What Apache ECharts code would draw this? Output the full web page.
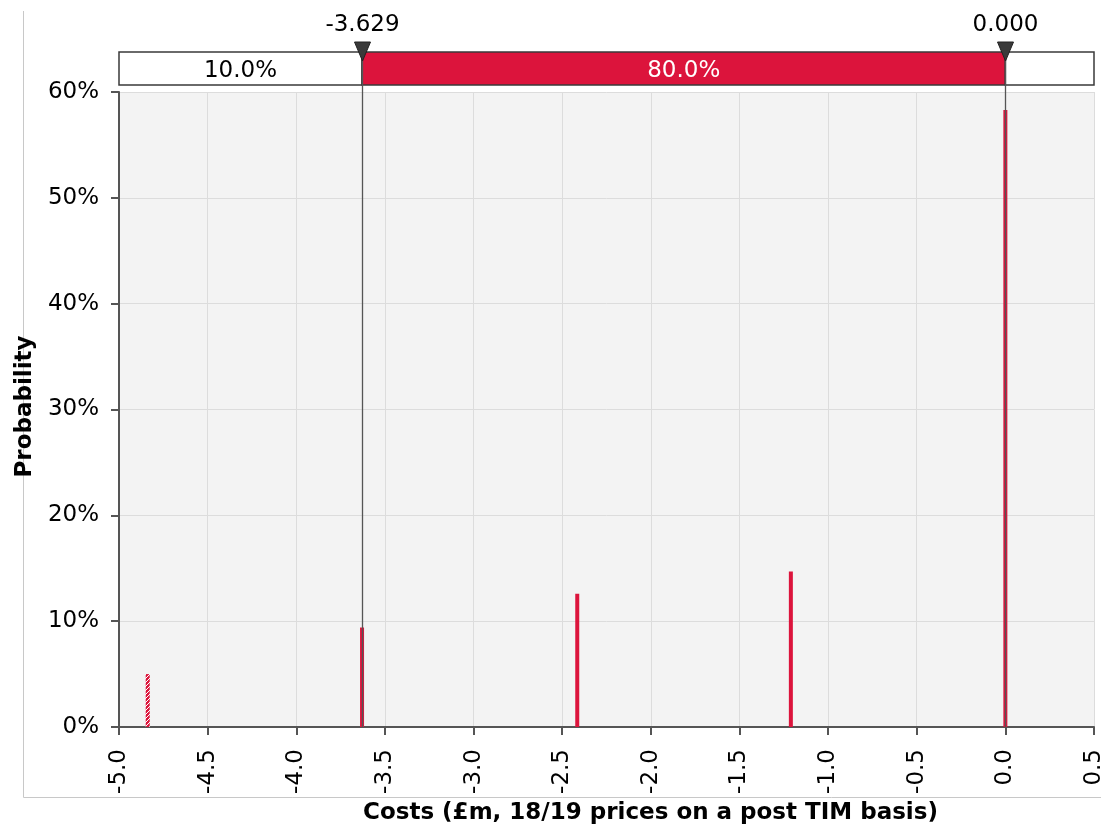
<!DOCTYPE html>
<html>
<head>
<meta charset="utf-8">
<script src="https://cdn.jsdelivr.net/npm/echarts@6/dist/echarts.min.js"></script>
<style>
html,body{margin:0;padding:0;background:#ffffff;}
#chart{width:1101px;height:825px;}
</style>
</head>
<body>
<div id="chart"></div>
<script>
// ---- Data ----
const costs = [-4.838, -3.629, -2.415, -1.210, 0.000];   // x positions of the probability spikes (£m)
const probs = [5.0, 9.4, 12.6, 14.7, 58.3];               // probability (%)
const markerValues = [-3.629, 0.000];                     // delimiter markers
const markerLabels = ['-3.629', '0.000'];
const bandBounds = [[-5.0, -3.629], [-3.629, 0.0], [0.0, 0.5]];
const bandLabels = ['10.0%', '80.0%', ''];
const xTitle = 'Costs (£m, 18/19 prices on a post TIM basis)';
const yTitle = 'Probability';

// hatch pattern for the first spike
const pc = document.createElement('canvas');
pc.width = 4; pc.height = 4;
const pctx = pc.getContext('2d');
pctx.fillStyle = '#DC143C'; pctx.fillRect(0, 0, 4, 4);
pctx.strokeStyle = '#ffffff'; pctx.lineWidth = 1;
pctx.beginPath(); pctx.moveTo(0, 4); pctx.lineTo(4, 0); pctx.stroke();

const RED = '#DC143C';
const BAND_TOP = 52, BAND_BOT = 85;

const chart = echarts.init(document.getElementById('chart'));
chart.setOption({
  animation: false,
  textStyle: { fontFamily: 'DejaVu Sans' },
  graphic: [
    { type: 'line', shape: { x1: 23.5, y1: 11, x2: 23.5, y2: 797.5 }, style: { stroke: '#c8c8c8', lineWidth: 1 }, z: -10 },
    { type: 'line', shape: { x1: 23.5, y1: 797.5, x2: 1101, y2: 797.5 }, style: { stroke: '#c8c8c8', lineWidth: 1 }, z: -10 }
  ],
  grid: {
    left: 119, right: 7, top: 92, bottom: 98,
    outerBoundsMode: 'none', containLabel: false,
    show: true, backgroundColor: '#f3f3f3', borderWidth: 0
  },
  xAxis: {
    type: 'value', min: -5.0, max: 0.5, interval: 0.5,
    name: xTitle, nameLocation: 'middle', nameGap: 70,
    nameTextStyle: { fontFamily: 'DejaVu Sans', fontWeight: 'bold', fontSize: 23, color: '#000',
      padding: [0, 0, 0, 88] },
    axisLine: { show: true, onZero: false, lineStyle: { color: '#555', width: 2 } },
    axisTick: { show: true, length: 8, lineStyle: { color: '#555', width: 2 } },
    axisLabel: { rotate: 90, margin: 22, fontSize: 23, color: '#000',
      formatter: v => v.toFixed(1) },
    splitLine: { show: true, lineStyle: { color: '#dcdcdc', width: 1 } }
  },
  yAxis: {
    type: 'value', min: 0, max: 60, interval: 10,
    name: yTitle, nameLocation: 'middle', nameGap: 80,
    nameTextStyle: { fontFamily: 'DejaVu Sans', fontWeight: 'bold', fontSize: 23, color: '#000',
      padding: [0, 0, 0, 6] },
    axisLine: { show: true, onZero: false, lineStyle: { color: '#555', width: 2 } },
    axisTick: { show: true, length: 8, lineStyle: { color: '#555', width: 2 } },
    axisLabel: { margin: 20, fontSize: 23, color: '#000', formatter: '{value}%' },
    splitLine: { show: true, lineStyle: { color: '#dcdcdc', width: 1 } }
  },
  series: [
    {
      type: 'custom', name: 'spikes', clip: false, z: 3,
      data: costs.map((c, i) => [c, probs[i]]),
      renderItem: (params, api) => {
        const top = api.coord([api.value(0), api.value(1)]);
        const base = api.coord([api.value(0), 0]);
        const w = 4;
        return {
          type: 'rect',
          shape: { x: base[0] - w / 2, y: top[1], width: w, height: base[1] - top[1] },
          style: { fill: params.dataIndex === 0 ? { image: pc, repeat: 'repeat' } : RED }
        };
      }
    },
    {
      type: 'custom', name: 'band', clip: false, z: 5,
      data: bandBounds.map((b, i) => [b[0], b[1], i]),
      renderItem: (params, api) => {
        const x0 = api.coord([api.value(0), 0])[0];
        const x1 = api.coord([api.value(1), 0])[0];
        const i = params.dataIndex;
        const filled = i === 1;
        return {
          type: 'group',
          children: [
            { type: 'rect', shape: { x: x0, y: BAND_TOP, width: x1 - x0, height: BAND_BOT - BAND_TOP },
              style: { fill: filled ? RED : '#ffffff', stroke: '#3a3a3a', lineWidth: 1.5 } },
            { type: 'text', x: (x0 + x1) / 2, y: (BAND_TOP + BAND_BOT) / 2 + 3,
              style: { text: bandLabels[i], fill: filled ? '#ffffff' : '#000000',
                font: '23px "DejaVu Sans"', align: 'center', verticalAlign: 'middle' } }
          ]
        };
      }
    },
    {
      type: 'custom', name: 'markers', clip: false, z: 6,
      data: markerValues.map((v, i) => [v, i]),
      renderItem: (params, api) => {
        const base = api.coord([api.value(0), 0]);
        const x = Math.round(base[0]) + 0.5;
        const i = params.dataIndex;
        return {
          type: 'group',
          children: [
            { type: 'line', shape: { x1: x, y1: BAND_TOP, x2: x, y2: base[1] },
              style: { stroke: '#555', lineWidth: 1.3 } },
            { type: 'polygon', shape: { points: [[x - 8, 42], [x + 8, 42], [x, 61]] },
              style: { fill: '#3a3a3a', stroke: '#222', lineWidth: 1 } },
            { type: 'text', x: x, y: 25,
              style: { text: markerLabels[i], fill: '#000', font: '23px "DejaVu Sans"',
                align: 'center', verticalAlign: 'middle' } }
          ]
        };
      }
    }
  ]
});
</script>
</body>
</html>
